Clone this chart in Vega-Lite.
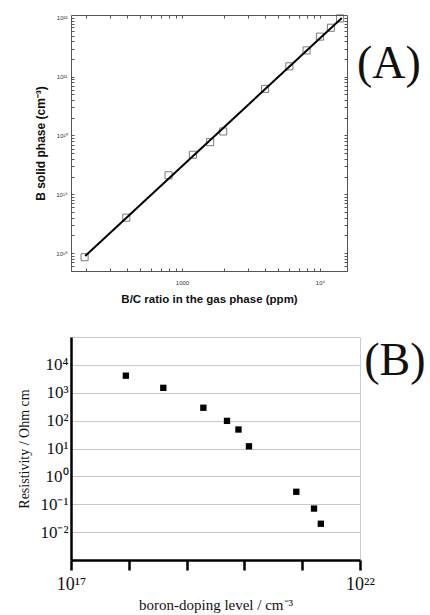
{
  "$schema": "https://vega.github.io/schema/vega-lite/v6.json",
  "background": "white",
  "padding": {"left": 17, "top": 12, "right": 2, "bottom": 2},
  "spacing": 31,
  "config": {"view": {"stroke": null}},
  "datasets": {
    "fitA": [{"bc": 199, "b": 8.9e17}, {"bc": 14400, "b": 1e22}],
    "ptsA": [
      {"bc": 197, "b": 8.5e17},
      {"bc": 395, "b": 4.0e18},
      {"bc": 800, "b": 2.1e19},
      {"bc": 1200, "b": 4.7e19},
      {"bc": 1600, "b": 7.7e19},
      {"bc": 1990, "b": 1.17e20},
      {"bc": 4000, "b": 6.2e20},
      {"bc": 6000, "b": 1.5e21},
      {"bc": 8000, "b": 2.8e21},
      {"bc": 10000, "b": 4.8e21},
      {"bc": 12000, "b": 6.8e21},
      {"bc": 14000, "b": 9.8e21}
    ],
    "ptsB": [
      {"dop": 8.9e17, "res": 4100},
      {"dop": 3.95e18, "res": 1500},
      {"dop": 1.95e19, "res": 290},
      {"dop": 5.0e19, "res": 98},
      {"dop": 7.9e19, "res": 48},
      {"dop": 1.2e20, "res": 12},
      {"dop": 7.9e20, "res": 0.28},
      {"dop": 1.6e21, "res": 0.07},
      {"dop": 2.1e21, "res": 0.02}
    ]
  },
  "vconcat": [
    {
      "width": 276,
      "height": 256,
      "view": {"stroke": "#555", "strokeWidth": 1},
      "resolve": {"axis": {"x": "independent", "y": "independent"}},
      "layer": [
        {
          "data": {"name": "ptsA"},
          "mark": {"type": "square", "filled": false, "stroke": "#444", "strokeWidth": 1, "size": 50},
          "encoding": {
            "x": {
              "field": "bc", "type": "quantitative",
              "scale": {"type": "log", "domain": [157, 15700], "nice": false},
              "axis": {
                "orient": "bottom", "domain": false, "grid": false,
                "values": [200, 300, 400, 500, 600, 700, 800, 900, 1000, 2000, 3000, 4000, 5000, 6000, 7000, 8000, 9000, 10000],
                "labelExpr": "datum.value == 1000 ? '1000' : (datum.value == 10000 ? '10⁴' : '')",
                "tickSize": -3, "tickColor": "#555", "labelPadding": 11,
                "labelFont": "Liberation Sans", "labelFontSize": 6, "labelColor": "#333",
                "title": "B/C ratio in the gas phase (ppm)",
                "titleFont": "Liberation Sans", "titleFontSize": 11.5, "titleFontWeight": "bold",
                "titleColor": "#111", "titlePadding": 8
              }
            },
            "y": {
              "field": "b", "type": "quantitative",
              "scale": {"type": "log", "domain": [4.95e17, 1.12e22], "nice": false},
              "axis": {
                "orient": "left", "domain": false, "grid": false,
                "values": [5e17, 6e17, 7e17, 8e17, 9e17, 1e18, 2e18, 3e18, 4e18, 5e18, 6e18, 7e18, 8e18, 9e18, 1e19, 2e19, 3e19, 4e19, 5e19, 6e19, 7e19, 8e19, 9e19, 1e20, 2e20, 3e20, 4e20, 5e20, 6e20, 7e20, 8e20, 9e20, 1e21, 2e21, 3e21, 4e21, 5e21, 6e21, 7e21, 8e21, 9e21, 1e22],
                "labelExpr": "datum.value == 1e18 ? '10¹⁸' : datum.value == 1e19 ? '10¹⁹' : datum.value == 1e20 ? '10²⁰' : datum.value == 1e21 ? '10²¹' : datum.value == 1e22 ? '10²²' : ''",
                "tickSize": -3, "tickColor": "#555", "labelPadding": 7,
                "labelFont": "Liberation Sans", "labelFontSize": 6, "labelColor": "#333",
                "title": "B solid phase (cm⁻³)",
                "titleFont": "Liberation Sans", "titleFontSize": 12, "titleFontWeight": "bold",
                "titleColor": "#111", "titlePadding": 8
              }
            }
          }
        },
        {
          "data": {"name": "fitA"},
          "mark": {"type": "line", "color": "black", "strokeWidth": 2},
          "encoding": {
            "x": {
              "field": "bc", "type": "quantitative",
              "axis": {
                "orient": "top", "domain": false, "grid": false, "labels": false, "title": null,
                "values": [200, 300, 400, 500, 600, 700, 800, 900, 1000, 2000, 3000, 4000, 5000, 6000, 7000, 8000, 9000, 10000],
                "tickSize": -3, "tickColor": "#555"
              }
            },
            "y": {
              "field": "b", "type": "quantitative",
              "axis": {
                "orient": "right", "domain": false, "grid": false, "labels": false, "title": null,
                "values": [5e17, 6e17, 7e17, 8e17, 9e17, 1e18, 2e18, 3e18, 4e18, 5e18, 6e18, 7e18, 8e18, 9e18, 1e19, 2e19, 3e19, 4e19, 5e19, 6e19, 7e19, 8e19, 9e19, 1e20, 2e20, 3e20, 4e20, 5e20, 6e20, 7e20, 8e20, 9e20, 1e21, 2e21, 3e21, 4e21, 5e21, 6e21, 7e21, 8e21, 9e21, 1e22],
                "tickSize": -3, "tickColor": "#555"
              }
            }
          }
        },
        {
          "data": {"values": [{"label": "(A)"}]},
          "mark": {"type": "text", "font": "Liberation Serif", "fontSize": 46, "align": "center", "baseline": "middle", "color": "#111"},
          "encoding": {
            "x": {"datum": 31600, "type": "quantitative", "axis": null},
            "y": {"datum": 1.66e21, "type": "quantitative", "axis": null},
            "text": {"field": "label"}
          }
        }
      ]
    },
    {
      "width": 289,
      "height": 223,
      "view": {"stroke": "#cccccc", "strokeWidth": 1},
      "layer": [
        {
          "data": {"name": "ptsB"},
          "mark": {"type": "square", "filled": true, "color": "black", "size": 40, "opacity": 1},
          "encoding": {
            "x": {
              "field": "dop", "type": "quantitative",
              "scale": {"type": "log", "domain": [1e17, 1e22], "nice": false},
              "axis": {
                "values": [1e17, 1e18, 1e19, 1e20, 1e21, 1e22],
                "labelExpr": "datum.value == 1e17 ? '10¹⁷' : (datum.value == 1e22 ? '10²²' : '')",
                "grid": false, "domainColor": "black", "domainWidth": 2.5,
                "tickColor": "black", "tickWidth": 2.5, "tickSize": 10,
                "labelFont": "Liberation Serif", "labelFontSize": 18, "labelColor": "#111",
                "labelPadding": 5, "labelFlush": false,
                "title": "boron-doping level / cm⁻³",
                "titleFont": "Liberation Serif", "titleFontSize": 15, "titleFontWeight": "normal",
                "titleColor": "#111", "titlePadding": 4
              }
            },
            "y": {
              "field": "res", "type": "quantitative",
              "scale": {"type": "log", "domain": [1e-3, 1e5], "nice": false},
              "axis": {
                "values": [0.01, 0.1, 1, 10, 100, 1000, 10000],
                "labelExpr": "datum.value == 0.01 ? '10⁻²' : datum.value == 0.1 ? '10⁻¹' : datum.value == 1 ? '10⁰' : datum.value == 10 ? '10¹' : datum.value == 100 ? '10²' : datum.value == 1000 ? '10³' : '10⁴'",
                "grid": true, "gridColor": "#c8c8c8", "gridWidth": 1,
                "domainColor": "black", "domainWidth": 2.5, "ticks": false,
                "labelFont": "Liberation Serif", "labelFontSize": 17, "labelColor": "#111",
                "labelPadding": 3,
                "title": "Resistivity / Ohm cm",
                "titleFont": "Liberation Serif", "titleFontSize": 14, "titleFontWeight": "normal",
                "titleColor": "#111", "titlePadding": 8
              }
            }
          }
        },
        {
          "data": {"values": [{"label": "(B)"}]},
          "mark": {"type": "text", "font": "Liberation Serif", "fontSize": 46, "align": "center", "baseline": "middle", "color": "#111"},
          "encoding": {
            "x": {"datum": 4e22, "type": "quantitative"},
            "y": {"datum": 14000, "type": "quantitative"},
            "text": {"field": "label"}
          }
        }
      ]
    }
  ]
}
